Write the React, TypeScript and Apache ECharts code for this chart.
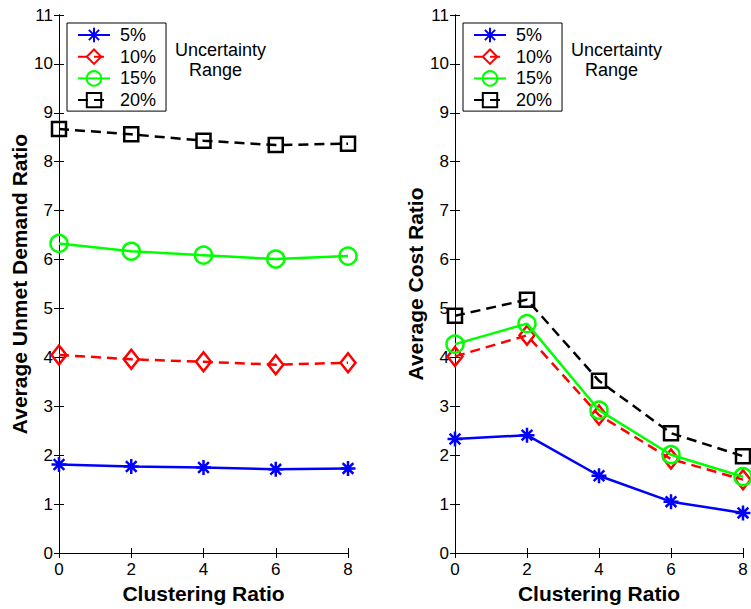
import React, { useEffect, useRef } from "react";
import * as echarts from "echarts";

const xs = [0, 2, 4, 6, 8];
const seriesNames = ["5%", "10%", "15%", "20%"];
const unmetDemand = [
  [1.81, 1.77, 1.75, 1.71, 1.73],
  [4.05, 3.96, 3.91, 3.85, 3.89],
  [6.33, 6.17, 6.09, 6.01, 6.07],
  [8.67, 8.56, 8.43, 8.34, 8.37],
];
const costRatio = [
  [2.33, 2.41, 1.58, 1.05, 0.82],
  [4.02, 4.45, 2.82, 1.92, 1.5],
  [4.27, 4.69, 2.92, 2.01, 1.56],
  [4.85, 5.18, 3.52, 2.45, 1.98],
];
const xTicks = { min: 0, max: 8, interval: 2 };
const yTicks = { min: 0, max: 11, interval: 1 };

const FONT = "Liberation Sans, Arial, Helvetica, sans-serif";
const colors = ["#0000ff", "#ff0000", "#00ff00", "#000000"];
const asterisk = "path://M0,-7L0,7M-7,0L7,0M-5,-5L5,5M-5,5L5,-5";
const symbols = [asterisk, "diamond", "circle", "rect"];
const symbolSizes: any[] = [15, [15, 19], 17, 14];
const dashed = [false, true, false, true];

export default function App() {
  const ref = useRef<HTMLDivElement>(null);
  useEffect(() => {
    if (!ref.current) return;
    const chart = echarts.init(ref.current, null, { renderer: "svg" });
    const grids = [
      { left: 59, top: 15, width: 289, height: 539 },
      { left: 455, top: 15, width: 288, height: 539 },
    ];
    const yNames = ["Average Unmet Demand Ratio", "Average Cost Ratio"];
    const xAxis: any[] = [];
    const yAxis: any[] = [];
    grids.forEach((g, gi) => {
      xAxis.push({
        type: "value",
        gridIndex: gi,
        position: "bottom",
        ...xTicks,
        name: "Clustering Ratio",
        nameLocation: "middle",
        nameGap: 30,
        nameTextStyle: { fontFamily: FONT, fontSize: 21, fontWeight: "bold", color: "#000" },
        axisLine: { show: true, lineStyle: { color: "#000", width: 1 } },
        axisTick: { show: true, inside: true, length: 5, lineStyle: { color: "#000" } },
        axisLabel: { show: true, fontFamily: FONT, fontSize: 17, color: "#000", margin: 8 },
        splitLine: { show: false },
      });
      xAxis.push({
        type: "value",
        gridIndex: gi,
        position: "top",
        ...xTicks,
        axisLine: { show: true, lineStyle: { color: "#000", width: 1 } },
        axisTick: { show: true, inside: true, length: 5, lineStyle: { color: "#000" } },
        axisLabel: { show: false },
        splitLine: { show: false },
      });
      yAxis.push({
        type: "value",
        gridIndex: gi,
        position: "left",
        ...yTicks,
        name: yNames[gi],
        nameLocation: "middle",
        nameGap: 29,
        nameTextStyle: { fontFamily: FONT, fontSize: 21, fontWeight: "bold", color: "#000" },
        axisLine: { show: true, lineStyle: { color: "#000", width: 1 } },
        axisTick: { show: true, inside: true, length: 5, lineStyle: { color: "#000" } },
        axisLabel: { show: true, fontFamily: FONT, fontSize: 17, color: "#000", margin: 6 },
        splitLine: { show: false },
      });
      yAxis.push({
        type: "value",
        gridIndex: gi,
        position: "right",
        ...yTicks,
        axisLine: { show: true, lineStyle: { color: "#000", width: 1 } },
        axisTick: { show: true, inside: true, length: 5, lineStyle: { color: "#000" } },
        axisLabel: { show: false },
        splitLine: { show: false },
      });
    });

    const series: any[] = [];
    [unmetDemand, costRatio].forEach((set, gi) => {
      set.forEach((vals, si) => {
        series.push({
          type: "line",
          name: seriesNames[si],
          xAxisIndex: gi * 2,
          yAxisIndex: gi * 2,
          data: xs.map((x, i) => [x, vals[i]]),
          symbol: symbols[si],
          symbolSize: symbolSizes[si],
          showAllSymbol: true,
          lineStyle: {
            color: colors[si],
            width: 2.5,
            type: dashed[si] ? [10, 6] : "solid",
          },
          itemStyle: {
            color: si === 0 ? colors[si] : "rgba(255,255,255,0)",
            borderColor: colors[si],
            borderWidth: 2.5,
          },
          emphasis: { disabled: true },
          z: 2 + si,
        });
      });
    });

    const legendBase = (left: number) => ({
      orient: "vertical",
      left,
      top: 23,
      data: seriesNames,
      itemWidth: 32,
      itemHeight: 18,
      itemGap: 3.7,
      padding: [3, 10, 2, 10],
      borderColor: "#000",
      borderWidth: 1,
      backgroundColor: "#fff",
      selectedMode: false,
      textStyle: { fontFamily: FONT, fontSize: 18, color: "#000", padding: [0, 0, 0, 5] },
    });

    const txt = (x: number, y: number, t: string) => ({
      type: "text",
      left: x,
      top: y,
      style: { text: t, fontFamily: FONT, fontSize: 18, fill: "#000" },
    });

    chart.setOption({
      animation: false,
      backgroundColor: "#fff",
      grid: grids,
      xAxis,
      yAxis,
      series,
      legend: [legendBase(67), legendBase(463)],
      graphic: [
        txt(175, 41, "Uncertainty"),
        txt(189, 61, "Range"),
        txt(571, 41, "Uncertainty"),
        txt(585, 61, "Range"),
      ],
    });
    return () => chart.dispose();
  }, []);
  return (
    <div
      ref={ref}
      style={{ position: "absolute", left: 0, top: 0, width: 751, height: 609 }}
    />
  );
}
